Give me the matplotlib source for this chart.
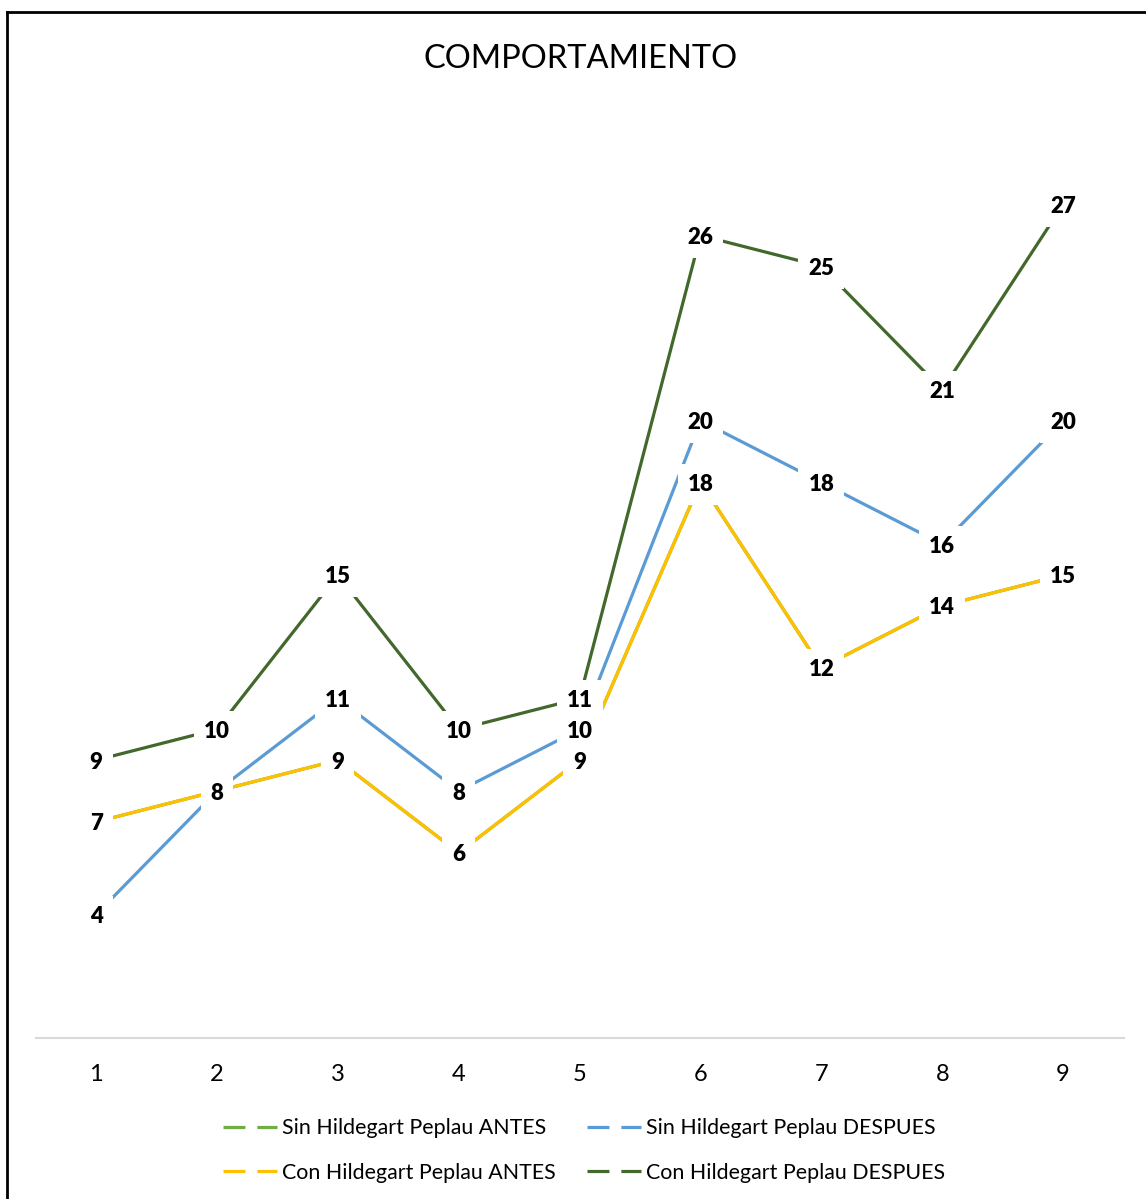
import matplotlib.pyplot as plt
from matplotlib.lines import Line2D

plt.rcParams['font.family'] = ['Lato', 'DejaVu Sans']
plt.rcParams['lines.scale_dashes'] = False

# data
sesiones = [1, 2, 3, 4, 5, 6, 7, 8, 9]
sin_antes = [7, 8, 9, 6, 9, 18, 12, 14, 15]      # hidden under "Con ANTES"
sin_despues = [4, 8, 11, 8, 10, 20, 18, 16, 20]
con_antes = [7, 8, 9, 6, 9, 18, 12, 14, 15]
con_despues = [9, 10, 15, 10, 11, 26, 25, 21, 27]

series = [
    ('Sin Hildegart Peplau ANTES', sin_antes, '#70AD47'),
    ('Sin Hildegart Peplau DESPUES', sin_despues, '#5B9BD5'),
    ('Con Hildegart Peplau ANTES', con_antes, '#FFC000'),
    ('Con Hildegart Peplau DESPUES', con_despues, '#43682B'),
]

fig = plt.figure(figsize=(11.46, 11.99), dpi=100)
ax = fig.add_axes([0.0311, 0.1343, 0.9493, 0.7723])

for i, (name, vals, col) in enumerate(series):
    ax.plot(sesiones, vals, color=col, lw=2.3, zorder=2 + i,
            solid_capstyle='butt')

# labels on top, white boxes cut the lines like in Excel
for i, (name, vals, col) in enumerate(series):
    if i == 0:
        continue
    for x, v in zip(sesiones, vals):
        ax.text(x, v, str(v), ha='center', va='center_baseline', fontsize=16,
                fontweight='heavy', color='black', zorder=10,
                bbox=dict(boxstyle='square,pad=0.45', fc='white', ec='none'))

ax.set_xlim(0.5, 9.5)
ax.set_ylim(0, 30)
ax.set_xticks(sesiones)
ax.set_yticks([])
ax.tick_params(axis='x', length=0, pad=19, labelsize=17)
for s in ['top', 'right', 'left']:
    ax.spines[s].set_visible(False)
ax.spines['bottom'].set_color('#D9D9D9')
ax.spines['bottom'].set_linewidth(1.5)

fig.text(0.5065, 0.951, 'COMPORTAMIENTO', ha='center', va='center',
         fontsize=23.5)

handles = [Line2D([], [], color=c, lw=2.3, dashes=(15.8, 8.6)) for _, _, c in series]
labels = [n for n, _, _ in series]
# order so rows are: Sin ANTES / Sin DESPUES, Con ANTES / Con DESPUES
order = [0, 2, 1, 3]
fig.legend([handles[k] for k in order], [labels[k] for k in order],
           loc='center', bbox_to_anchor=(0.5096, 0.0405), ncol=2,
           frameon=False, fontsize=15.4, handlelength=2.5,
           handletextpad=0.22, columnspacing=1.5, labelspacing=1.15)

# chart frame (only top and left edges visible in the crop)
fig.add_artist(Line2D([7 / 1146, 7 / 1146], [0, 1 - 12 / 1199],
                      color='black', lw=2, transform=fig.transFigure))
fig.add_artist(Line2D([7 / 1146, 1], [1 - 12 / 1199, 1 - 12 / 1199],
                      color='black', lw=2, transform=fig.transFigure))

fig.savefig('out.png', dpi=100)
